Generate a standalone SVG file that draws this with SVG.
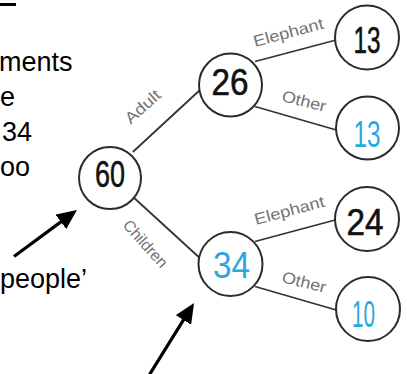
<svg xmlns="http://www.w3.org/2000/svg" width="407" height="374" viewBox="0 0 407 374">
<defs>
<style>
.nd circle{fill:#fff;stroke:#2b2b2b;stroke-width:2}
.num{font-family:"Liberation Sans Narrow","Liberation Sans",Arial,sans-serif;font-size:37px;text-anchor:middle}
.blk{fill:#111;stroke:#111;stroke-width:0.6}
.blu{fill:#29a8e0}
.lbl{font-family:"Liberation Sans Narrow","Liberation Sans",Arial,sans-serif;font-size:16px;fill:#737373}
.body{font-family:"Liberation Sans",Arial,sans-serif;font-size:27px;fill:#000}
#connectors line{stroke:#333;stroke-width:1.8;fill:none}
.arrow{stroke:#000;stroke-width:3.2;fill:none}
</style>
<marker id="ah" viewBox="0 0 20 18" refX="8" refY="9" markerWidth="20" markerHeight="18" orient="auto" markerUnits="userSpaceOnUse">
<path d="M0,0 L20,9 L0,18 z" fill="#000"/>
</marker>
</defs>
<rect width="407" height="374" fill="#fff"/>

<g id="text-fragments">
<rect x="0" y="3" width="16" height="3" fill="#000"/>
<text class="body" x="-1" y="71">ments</text>
<text class="body" x="0" y="106">e</text>
<text class="body" x="2" y="141">34</text>
<text class="body" x="0" y="176">oo</text>
<text class="body" x="0" y="288">people’</text>
</g>

<g id="arrows">
<line class="arrow" x1="14" y1="256.5" x2="67.3" y2="217.1" marker-end="url(#ah)"/>
<line class="arrow" x1="148" y1="377" x2="187.7" y2="313.2" marker-end="url(#ah)"/>
</g>

<g id="connectors">
<line x1="132.8" y1="152" x2="203.2" y2="87"/>
<line x1="132" y1="196" x2="202" y2="260"/>
<line x1="255" y1="61.5" x2="338" y2="39.5"/>
<line x1="255" y1="106.5" x2="338" y2="130.5"/>
<line x1="255" y1="241.5" x2="337" y2="219.5"/>
<line x1="255" y1="286.5" x2="338" y2="310.5"/>
<g class="lbl">
<text transform="translate(143,107) rotate(-42)" text-anchor="middle" y="5" textLength="42" lengthAdjust="spacingAndGlyphs">Adult</text>
<text transform="translate(145,244) rotate(48)" text-anchor="middle" y="5" textLength="58" lengthAdjust="spacingAndGlyphs">Children</text>
<text transform="translate(255,47) rotate(-15)" textLength="72" lengthAdjust="spacingAndGlyphs">Elephant</text>
<text transform="translate(281,101) rotate(14)" textLength="45" lengthAdjust="spacingAndGlyphs">Other</text>
<text transform="translate(256,225) rotate(-15)" textLength="72" lengthAdjust="spacingAndGlyphs">Elephant</text>
<text transform="translate(281,282) rotate(14)" textLength="45" lengthAdjust="spacingAndGlyphs">Other</text>
</g>
</g>

<g id="node-60" class="nd">
<circle cx="110" cy="178" r="31"/>
<text class="num blk" x="110" y="187" textLength="30" lengthAdjust="spacingAndGlyphs">60</text>
</g>
<g id="node-26" class="nd">
<circle cx="230.5" cy="85" r="31.5"/>
<text class="num blk" x="230" y="95" textLength="37" lengthAdjust="spacingAndGlyphs">26</text>
</g>
<g id="node-13a" class="nd">
<circle cx="367" cy="37.5" r="32"/>
<text class="num blk" x="367" y="53" textLength="27" lengthAdjust="spacingAndGlyphs">13</text>
</g>
<g id="node-13b" class="nd">
<circle cx="367.5" cy="128" r="31.5"/>
<text class="num blu" x="367" y="147" textLength="27" lengthAdjust="spacingAndGlyphs">13</text>
</g>
<g id="node-34" class="nd">
<circle cx="230.5" cy="264" r="32"/>
<text class="num blu" x="231.5" y="278" textLength="37" lengthAdjust="spacingAndGlyphs">34</text>
</g>
<g id="node-24" class="nd">
<circle cx="367" cy="219" r="32"/>
<text class="num blk" x="365" y="235" textLength="37" lengthAdjust="spacingAndGlyphs">24</text>
</g>
<g id="node-10" class="nd">
<circle cx="368" cy="309" r="32"/>
<text class="num blu" x="363.5" y="327" textLength="23" lengthAdjust="spacingAndGlyphs">10</text>
</g>
</svg>
